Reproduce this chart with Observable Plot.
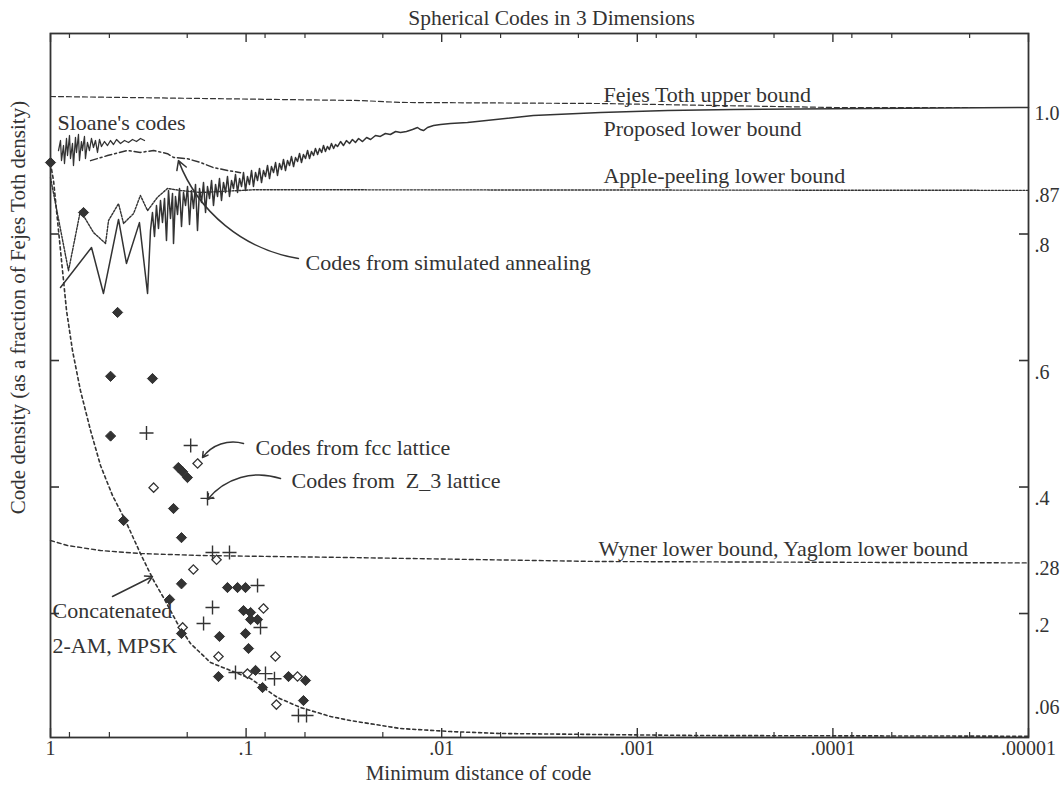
<!DOCTYPE html>
<html><head><meta charset="utf-8">
<script src="https://cdn.jsdelivr.net/npm/d3@7"></script>
<script src="https://cdn.jsdelivr.net/npm/@observablehq/plot@0.6"></script>
<style>html,body{margin:0;padding:0;background:#fff}svg{display:block}</style>
</head><body><div id="chart"></div>
<script>
// ---- Data (x = minimum distance of code, y = density as a fraction of Fejes Toth) ----
const fejesToth = [[1,1.0174],[0.026,1.011],[0.01625,1.008],[0.00154,1.0063],[0.0000993,1.0],[0.00001,1.0]];

const proposedLower = [
 [0.889,0.7154],[0.617,0.7787],[0.536,0.706],[0.449,0.823],[0.409,0.7534],[0.351,0.818],[0.319,0.706],
 [0.3082,0.8055],[0.3011,0.834],[0.294,0.796],[0.2872,0.8451],[0.2805,0.8087],[0.2739,0.853],[0.2676,0.8182],
 [0.2613,0.8561],[0.2553,0.7897],[0.2493,0.8688],[0.2435,0.8245],[0.2378,0.864],[0.235,0.785],[0.2296,0.8593],
 [0.2242,0.8308],[0.219,0.8719],[0.2139,0.8119],[0.2089,0.8656],[0.204,0.8451],[0.1993,0.8751],[0.1947,0.815],
 [0.1901,0.8688],[0.1857,0.8403],[0.1814,0.8783],[0.1772,0.8055],[0.173,0.8719],[0.169,0.8498],[0.1651,0.8814],
 [0.1612,0.834],[0.1575,0.8751],[0.1538,0.8561],[0.1502,0.8846],[0.1468,0.8451],[0.1433,0.8783],[0.14,0.8593],
 [0.1368,0.8877],[0.1336,0.853],[0.1305,0.8814],[0.1274,0.8656],[0.1245,0.8909],[0.1216,0.8593],[0.1187,0.8846],
 [0.116,0.8719],[0.1133,0.8941],[0.1106,0.8656],[0.108,0.8877],[0.1055,0.8751],[0.1031,0.8972],[0.1007,0.8688],
 [0.0984,0.8909],[0.0961,0.8783],[0.0938,0.9004],[0.0917,0.8751],[0.0895,0.8972],[0.0874,0.8846],[0.0854,0.9036],
 [0.0834,0.8814],[0.0815,0.9004],[0.0796,0.8909],[0.0777,0.9083],[0.0759,0.8877],[0.0742,0.9067],[0.0724,0.8972],
 [0.0707,0.913],[0.0691,0.8925],[0.0675,0.9115],[0.0659,0.902],[0.0644,0.9178],[0.0629,0.9004],[0.0614,0.9162],
 [0.06,0.9083],[0.0586,0.9225],[0.0572,0.9067],[0.0559,0.9209],[0.0546,0.9146],[0.0533,0.9273],[0.0521,0.913],
 [0.0509,0.9257],[0.0497,0.9194],[0.0485,0.932],[0.0474,0.9194],[0.0463,0.9304],[0.0452,0.9241],[0.0442,0.9352],
 [0.0431,0.9257],[0.0421,0.9352],[0.0411,0.9289],[0.0402,0.9399],[0.0393,0.9304],[0.0384,0.9383],[0.0375,0.9336],
 [0.0366,0.9431],[0.0357,0.9352],[0.0349,0.9415],[0.0341,0.9383],[0.0329,0.9462],[0.0318,0.9399],[0.0307,0.9478],
 [0.0296,0.9431],[0.0286,0.9494],[0.0276,0.9447],[0.0266,0.951],[0.0254,0.9462],[0.0242,0.9526],[0.0231,0.9494],
 [0.0218,0.9557],[0.0206,0.9542],[0.0194,0.9589],[0.0183,0.9573],[0.0172,0.9621],[0.01624,0.9605],[0.01514,0.9621],
 [0.0141,0.9652],[0.01329,0.9684],[0.01284,0.9652],[0.01239,0.9636],[0.01182,0.9684],[0.01101,0.9715],
 [0.01014,0.9731],[0.00902,0.9747],[0.00738,0.9763],[0.0034,0.9874],[0.00154,0.992],[0.0007,0.9953],
 [0.000322,0.9968],[0.0000993,0.998],[0.00001,1.0]
];

const sloaneCodes = [
 [0.9101,0.932],[0.889,0.9478],[0.8785,0.9162],[0.858,0.9399],[0.8482,0.9115],[0.8283,0.951],[0.8186,0.9241],
 [0.7996,0.9557],[0.7902,0.9194],[0.7719,0.9431],[0.7629,0.9083],[0.7452,0.9526],[0.7365,0.9289],[0.7194,0.9573],
 [0.711,0.9162],[0.6945,0.9462],[0.6864,0.932],[0.6704,0.9542],[0.6626,0.9194],[0.6472,0.9447],[0.6322,0.932],
 [0.6175,0.951],[0.6032,0.9368],[0.5888,0.9478],[0.5751,0.9289],[0.5618,0.9494],[0.5487,0.9383],[0.5296,0.9462],
 [0.5111,0.9399],[0.4934,0.9478],[0.4763,0.9415],[0.4597,0.9494],[0.4386,0.9431],[0.4183,0.9478],[0.3992,0.9447],
 [0.3808,0.9494],[0.3634,0.9462],[0.3466,0.951],[0.3307,0.9478]
];

const simulatedAnnealing = [
 [0.624,0.916],[0.511,0.924],[0.404,0.932],[0.347,0.929],[0.297,0.932],[0.2523,0.927],[0.235,0.921],
 [0.1994,0.919],[0.171,0.913],[0.1468,0.905],[0.1245,0.9004],[0.1068,0.897]
];

const applePeeling = [
 [1,0.889],[0.809,0.742],[0.703,0.837],[0.603,0.8024],[0.523,0.785],[0.505,0.8213],[0.449,0.848],
 [0.423,0.8166],[0.376,0.8324],[0.347,0.861],[0.319,0.837],[0.284,0.858],[0.2523,0.872],[0.2165,0.8688],
 [0.171,0.8656],[0.0906,0.87],[0.00001,0.869]
];

const concatenated = [
 [1,0.9115],[0.965,0.8846],[0.91,0.8055],[0.858,0.7265],[0.828,0.679],[0.772,0.6158],[0.703,0.5526],
 [0.624,0.4893],[0.555,0.434],[0.482,0.3866],[0.414,0.347],[0.347,0.2949],[0.297,0.2522],[0.2645,0.2253],
 [0.2243,0.1842],[0.1924,0.1526],[0.152,0.1225],[0.12,0.1099],[0.0949,0.0972],[0.0691,0.0672],
 [0.0527,0.0514],[0.037,0.0372],[0.0293,0.0308],[0.01625,0.0182],[0.009,0.0134],[0.005,0.0103],
 [0.00154,0.0087],[0.000475,0.0071],[0.00001,0.006]
];

const wynerYaglom = [
 [1,0.3154],[0.8185,0.3075],[0.555,0.2996],[0.347,0.2949],[0.171,0.2917],[0.0293,0.2885],[0.00154,0.2822],[0.00001,0.28]
];

const filledDiamonds = [
 [1,0.913],[0.678,0.834],[0.454,0.676],[0.493,0.575],[0.301,0.5715],[0.493,0.4806],[0.222,0.4308],[0.211,0.424],
 [0.1994,0.415],[0.235,0.366],[0.423,0.347],[0.214,0.32],[0.214,0.247],[0.1245,0.2411],[0.1106,0.2411],
 [0.1007,0.2411],[0.246,0.2222],[0.1031,0.2047],[0.0949,0.2016],[0.0949,0.1905],[0.0874,0.1905],
 [0.214,0.1684],[0.1368,0.1637],[0.1007,0.1684],[0.0972,0.1447],[0.1384,0.1004],[0.0895,0.11],
 [0.0607,0.1004],[0.0497,0.0941],[0.0824,0.083],[0.0509,0.0624]
];

const hollowDiamonds = [
 [0.177,0.4372],[0.297,0.399],[0.1416,0.285],[0.186,0.2696],[0.0815,0.208],[0.211,0.178],[0.0708,0.132],
 [0.1384,0.132],[0.0984,0.105],[0.0546,0.1004],[0.07,0.056]
];

const plusMarks = [
 [0.323,0.4854],[0.192,0.4656],[0.1575,0.382],[0.1485,0.2964],[0.1216,0.2964],[0.0874,0.2443],[0.1485,0.2095],
 [0.165,0.1842],[0.0844,0.178],[0.1133,0.1067],[0.0796,0.105],[0.0716,0.097],[0.054,0.0387],[0.0491,0.0387]
];

// Axis tick values and labels
const xLabelValues = [1, 0.1, 0.01, 0.001, 0.0001, 0.00001];
const xLabelTexts = ["1", ".1", ".01", ".001", ".0001", ".00001"];
const xMinorTicks = [0.8,0.5,0.2,0.08,0.05,0.02,0.008,0.005,0.002,0.0008,0.0005,0.0002,0.00008,0.00005,0.00002];
const yTickValues = [0.8, 0.6, 0.4, 0.2];
const yTickTexts = [".8", ".6", ".4", ".2"];
const yLevelValues = [1.0, 0.87, 0.28, 0.06];
const yLevelTexts = ["1.0", ".87", ".28", ".06"];

// Annotation anchors (data coordinates)
const curveLabels = [
 {text: "Fejes Toth upper bound", x: 0.00149, y: 1.0206},
 {text: "Proposed lower bound", x: 0.00149, y: 0.966},
 {text: "Apple-peeling lower bound", x: 0.00149, y: 0.8925},
 {text: "Wyner lower bound, Yaglom lower bound", x: 0.00158, y: 0.3028},
 {text: "Sloane's codes", x: 0.921, y: 0.976},
 {text: "Codes from simulated annealing", x: 0.0497, y: 0.755},
 {text: "Codes from fcc lattice", x: 0.0895, y: 0.4625},
 {text: "Codes from  Z_3 lattice", x: 0.0586, y: 0.4103},
 {text: "Concatenated", x: 0.977, y: 0.2047},
 {text: "2-AM, MPSK", x: 0.977, y: 0.1494}
];
const curvedArrowsCW = [{x1: 0.054, y1: 0.7613, x2: 0.2217, y2: 0.916}];
const curvedArrowsCCW = [
 {x1: 0.1031, y1: 0.4688, x2: 0.167, y2: 0.4466},
 {x1: 0.0667, y1: 0.4134, x2: 0.1575, y2: 0.3802}
];
const straightArrows = [{x1: 0.482, y1: 0.2269, x2: 0.301, y2: 0.2585}];

// ---- Chart ----
const ink = "#333";
const pts = a => a.map(([x, y]) => ({x, y}));
const mL = 50, mR = 35, mT = 33, mB = 53, W = 1063, H = 790;
const fw = W - mL - mR, fh = H - mT - mB;

const chart = Plot.plot({
  width: W, height: H,
  marginLeft: mL, marginRight: mR, marginTop: mT, marginBottom: mB,
  x: {type: "log", domain: [1, 0.00001], axis: null},
  y: {domain: [0.004, 1.117], axis: null},
  style: {fontFamily: "'Liberation Serif', 'Times New Roman', serif", fontSize: "22px", color: ink, background: "#fff"},
  marks: [
    // bounds and curves
    Plot.line(pts(fejesToth), {x: "x", y: "y", stroke: ink, strokeWidth: 1.2, strokeDasharray: "5,3"}),
    Plot.line(pts(wynerYaglom), {x: "x", y: "y", stroke: ink, strokeWidth: 1.4, strokeDasharray: "4,3"}),
    Plot.line(pts(concatenated), {x: "x", y: "y", stroke: ink, strokeWidth: 1.6, strokeDasharray: "3,3"}),
    Plot.line(pts(applePeeling), {x: "x", y: "y", stroke: ink, strokeWidth: 1.4, strokeDasharray: "2,1.5"}),
    Plot.line(pts(simulatedAnnealing), {x: "x", y: "y", stroke: ink, strokeWidth: 1.5, strokeDasharray: "7,3,2,3"}),
    Plot.line(pts(sloaneCodes), {x: "x", y: "y", stroke: ink, strokeWidth: 1.3}),
    Plot.line(pts(proposedLower), {x: "x", y: "y", stroke: ink, strokeWidth: 1.5}),
    // markers
    Plot.dot(pts(hollowDiamonds), {x: "x", y: "y", symbol: "diamond2", r: 4.2, fill: "white", stroke: ink, strokeWidth: 1.3}),
    Plot.dot(pts(filledDiamonds), {x: "x", y: "y", symbol: "diamond2", r: 4.6, fill: ink, stroke: ink, strokeWidth: 1}),
    Plot.dot(pts(plusMarks), {x: "x", y: "y", symbol: "plus", r: 4.6, stroke: ink, strokeWidth: 1.4}),
    // frame and ticks
    Plot.frame({stroke: ink, strokeWidth: 1.8}),
    Plot.tickX(xLabelValues, {x: d => d, insetTop: fh - 9, stroke: ink, strokeWidth: 1.4}),
    Plot.tickX(xMinorTicks, {x: d => d, insetTop: fh - 5, stroke: ink, strokeWidth: 1.2}),
    Plot.tickX(xLabelValues, {x: d => d, insetBottom: fh - 9, stroke: ink, strokeWidth: 1.4}),
    Plot.tickX(xMinorTicks, {x: d => d, insetBottom: fh - 5, stroke: ink, strokeWidth: 1.2}),
    Plot.tickY(yTickValues, {y: d => d, insetLeft: fw - 9, stroke: ink, strokeWidth: 1.6}),
    Plot.tickY(yTickValues, {y: d => d, insetRight: fw - 9, stroke: ink, strokeWidth: 1.6}),
    // tick labels
    Plot.text(xLabelValues, {x: d => d, text: (d, i) => xLabelTexts[i], frameAnchor: "bottom", lineAnchor: "middle", dy: 11, fontSize: 20, fill: ink}),
    Plot.text(yTickValues, {y: d => d, text: (d, i) => yTickTexts[i], frameAnchor: "right", textAnchor: "start", dx: 6, dy: 12, fontSize: 20, fill: ink}),
    Plot.text(yLevelValues, {y: d => d, text: (d, i) => yLevelTexts[i], frameAnchor: "right", textAnchor: "start", dx: 6, dy: 6, fontSize: 20, fill: ink}),
    // curve labels and arrows
    Plot.text(curveLabels, {x: "x", y: "y", text: "text", textAnchor: "start", fill: ink}),
    Plot.arrow(curvedArrowsCW, {x1: "x1", y1: "y1", x2: "x2", y2: "y2", bend: 30, headLength: 10, stroke: ink, strokeWidth: 1.5}),
    Plot.arrow(curvedArrowsCCW, {x1: "x1", y1: "y1", x2: "x2", y2: "y2", bend: -35, headLength: 6, stroke: ink, strokeWidth: 1.5}),
    Plot.arrow(straightArrows, {x1: "x1", y1: "y1", x2: "x2", y2: "y2", headLength: 8, stroke: ink, strokeWidth: 1.5}),
    // titles
    Plot.text(["Spherical Codes in 3 Dimensions"], {frameAnchor: "top", dx: 12, dy: -15, lineAnchor: "middle", fontSize: 21.5, fill: ink}),
    Plot.text(["Minimum distance of code"], {frameAnchor: "bottom", dx: -61, dy: 36, lineAnchor: "middle", fontSize: 21, fill: ink}),
    Plot.text(["Code density (as a fraction of Fejes Toth density)"], {frameAnchor: "left", textAnchor: "middle", rotate: -90, dx: -32, dy: -78, lineAnchor: "middle", fontSize: 21, fill: ink})
  ]
});
document.getElementById("chart").appendChild(chart);
</script></body></html>
